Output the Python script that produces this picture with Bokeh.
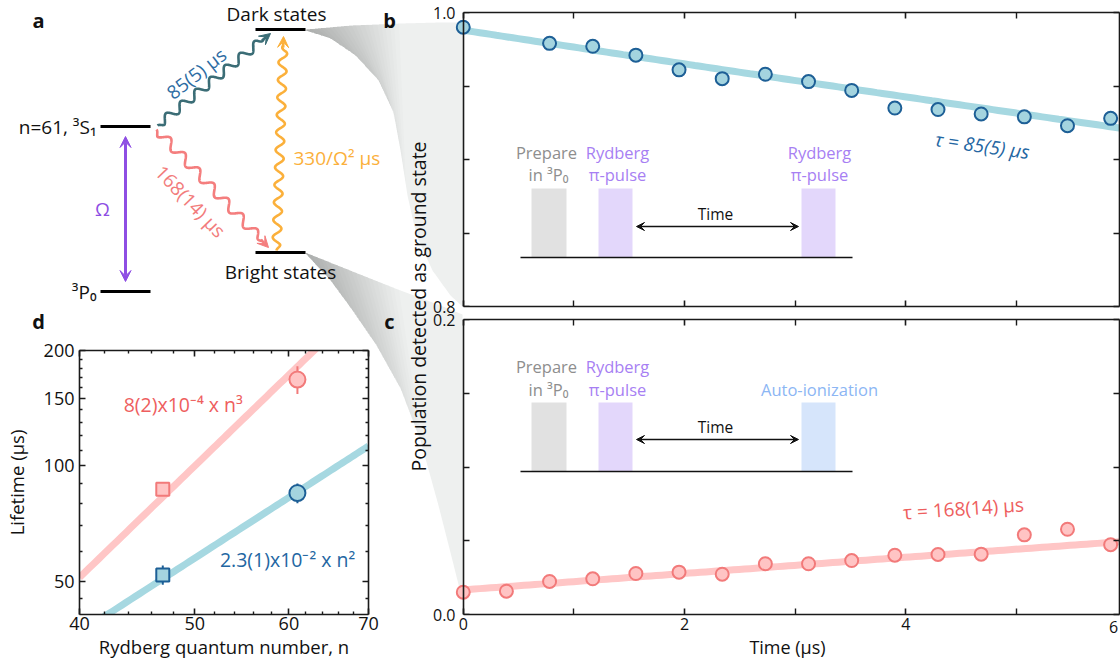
import numpy as np
from bokeh.plotting import figure
from bokeh.layouts import row, column
from bokeh.models import (Range1d, FixedTicker, LinearAxis, LogAxis, Arrow, VeeHead,
                          BasicTickFormatter, PrintfTickFormatter, Spacer)
from bokeh.core.properties import value
from bokeh.embed import file_html
from bokeh.resources import INLINE

FONT = "Open Sans"

# ---------------- data ----------------
# panel b: population remaining in the dark states
t_dark = [0.0, 0.78, 1.17, 1.56, 1.95, 2.34, 2.73, 3.12, 3.51, 3.90, 4.29, 4.68, 5.07, 5.46, 5.85]
pop_dark = [0.990, 0.979, 0.977, 0.971, 0.961, 0.955, 0.958, 0.953, 0.947,
            0.935, 0.934, 0.931, 0.929, 0.923, 0.928]
tau_dark_us = 85.0
dark_start = 0.988

# panel c: population returning through the bright states
t_bright = [0.0, 0.39, 0.78, 1.17, 1.56, 1.95, 2.34, 2.73, 3.12, 3.51, 3.90, 4.29, 4.68, 5.07, 5.46, 5.85]
pop_bright = [0.0151, 0.0158, 0.0224, 0.0242, 0.0278, 0.0287, 0.0273, 0.0344,
              0.0344, 0.0366, 0.0402, 0.0407, 0.0409, 0.0540, 0.0578, 0.0473]
tau_bright_us = 168.0
bright_floor = 0.0167
bright_scale = 0.94

# panel d: lifetimes against principal quantum number
n_levels = [47, 61]
life_dark = [52, 85]
life_dark_err = [3, 5]
life_bright = [87, 168]
life_bright_err = [3, 14]
coef_dark = 2.3e-2    # x n^2
coef_bright = 8e-4    # x n^3

time_major = [0, 2, 4]
time_minor = [1, 3, 5]
b_major = [0.8, 1.0]
b_minor = [0.85, 0.90, 0.95]
c_major = [0.0, 0.2]
c_minor = [0.05, 0.10, 0.15]
n_major = [40, 50, 60, 70]
n_minor = [42, 44, 46, 48, 52, 54, 56, 58, 62, 64, 66, 68]
life_major = [50, 100, 150, 200]
life_minor = [45, 60, 70, 80, 90, 110, 120, 130, 140, 160, 170, 180, 190]

BLUE_LINE = "#a6d8e1"
BLUE_FILL = "#a4d4df"
BLUE_EDGE = "#1d5f96"
BLUE_TEXT = "#2366a2"
PINK_LINE = "#ffc6c6"
PINK_FILL = "#ffc4c4"
PINK_EDGE = "#f27a7a"
PINK_TEXT = "#ee5e5e"
AX = "#1a1a1a"


def style_axis(ax, size=15):
    ax.axis_line_color = AX
    ax.axis_line_width = 1.6
    ax.major_tick_line_color = AX
    ax.major_tick_line_width = 1.6
    ax.minor_tick_line_color = AX
    ax.minor_tick_line_width = 1.4
    ax.major_tick_in = 6
    ax.major_tick_out = 0
    ax.minor_tick_in = 3
    ax.minor_tick_out = 0
    ax.major_label_text_font = FONT
    ax.major_label_text_font_size = f"{size}px"
    ax.major_label_text_color = "#111111"
    ax.axis_label_text_font = FONT
    ax.axis_label_text_font_style = "normal"
    ax.axis_label_text_color = "#111111"


def hide_labels(ax, ticks):
    ax.major_label_overrides = {t: "" for t in ticks}
    ax.major_label_text_font_size = "0px"
    ax.major_label_text_color = None
    ax.major_label_standoff = 0


def base_fig(**kw):
    f = figure(output_backend="svg", toolbar_location=None,
               background_fill_alpha=0, border_fill_alpha=0,
               outline_line_color=None, **kw)
    f.grid.visible = False
    return f


# ---------------- background canvas: level scheme, funnels, insets ----------------
canvas = figure(width=1120, height=664, x_range=Range1d(0, 1120), y_range=Range1d(664, 0),
                min_border=0, x_axis_location=None, y_axis_location=None,
                outline_line_color=None, toolbar_location=None, output_backend="svg")
canvas.grid.visible = False


def resample(pts, n=160):
    pts = np.asarray(pts, float)
    seg = np.hypot(*np.diff(pts, axis=0).T)
    s = np.concatenate([[0.0], np.cumsum(seg)]) / seg.sum()
    u = np.linspace(0, 1, n)
    return np.interp(u, s, pts[:, 0]), np.interp(u, s, pts[:, 1])


def funnel(upper, lower, layers=22, reach=0.6):
    ux, uy = resample(upper)
    lx, ly = resample(lower)
    canvas.patch(np.concatenate([ux, lx[::-1]]), np.concatenate([uy, ly[::-1]]),
                 fill_color="#eef0ef", line_color=None)
    n = len(ux)
    for k in range(layers):
        m = max(3, int(n * reach * (1 - k / layers)))
        canvas.patch(np.concatenate([ux[:m], lx[:m][::-1]]),
                     np.concatenate([uy[:m], ly[:m][::-1]]),
                     fill_color="#000000", fill_alpha=0.011, line_color=None)


funnel([(305, 29), (350, 25), (400, 23), (440, 22), (462, 22)],
       [(305, 30), (330, 38), (355, 55), (378, 80), (393, 112), (400, 150),
        (407, 195), (416, 235), (432, 270), (450, 295), (462, 306)])
funnel([(305, 252), (350, 270), (400, 290), (440, 305), (462, 314)],
       [(305, 253), (330, 280), (352, 310), (376, 345), (400, 388), (420, 440),
        (438, 505), (452, 560), (462, 600)])


def ctext(x, y, s, size=19, color="#111111", align="center", angle=0.0, style="normal"):
    canvas.text(x=[x], y=[y], text=[s], text_font=value(FONT),
                text_font_size=value(f"{size}px"), text_color=color,
                text_align=align, text_baseline="middle", angle=angle,
                text_font_style=style)


# panel letters
for lx, ly, s in [(38, 20, "a"), (389, 20, "b"), (389, 321, "c"), (38, 321, "d")]:
    ctext(lx, ly, s, size=20, style="bold")

# energy levels
for x0, x1, y in [(100, 150, 126), (100, 150, 291), (255, 305, 29), (255, 305, 252)]:
    canvas.line([x0, x1], [y, y], line_color="#000000", line_width=3)
ctext(96, 126, "n=61, \u00b3S\u2081", align="right")
ctext(96, 291, "\u00b3P\u2080", align="right")
ctext(276, 13, "Dark states")
ctext(280, 271, "Bright states")

# Rabi drive
PURPLE = "#8e4ee3"
canvas.add_layout(Arrow(start=VeeHead(size=11, fill_color=PURPLE, line_color=PURPLE),
                        end=VeeHead(size=11, fill_color=PURPLE, line_color=PURPLE),
                        x_start=125, y_start=136, x_end=125, y_end=281,
                        line_color=PURPLE, line_width=3))
ctext(102, 208, "\u03a9", size=19, color=PURPLE)


def wavy_arrow(x0, y0, x1, y1, wavelength, amp, color, head=11):
    dx, dy = x1 - x0, y1 - y0
    L = np.hypot(dx, dy)
    ux, uy = dx / L, dy / L
    ex, ey = x1 - ux * 9, y1 - uy * 9
    Lw = L - 9
    s = np.linspace(0, 1, 500)
    env = np.clip(np.minimum(s * Lw / 6, (1 - s) * Lw / 6), 0, 1)
    off = amp * env * np.sin(2 * np.pi * s * Lw / wavelength)
    xs = x0 + (ex - x0) * s - uy * off
    ys = y0 + (ey - y0) * s + ux * off
    canvas.line(xs, ys, line_color=color, line_width=2.6)
    canvas.add_layout(Arrow(end=VeeHead(size=head, fill_color=color, line_color=color),
                            x_start=ex - ux * 2, y_start=ey - uy * 2, x_end=x1, y_end=y1,
                            line_color=color, line_width=2.6))


TEAL = "#3b6d76"
ORANGE = "#fbb03b"
wavy_arrow(157, 125, 270, 33, 19, 4.2, TEAL)
wavy_arrow(156, 129, 268, 247, 21, 4.5, "#f47e7e")
wavy_arrow(276, 250, 283, 36, 17.5, 4.2, ORANGE)
ctext(196, 73, "85(5) \u00b5s", color="#2d6ca3", angle=np.deg2rad(38))
ctext(190, 201, "168(14) \u00b5s", color="#f27c7c", angle=np.deg2rad(-46))
ctext(293, 157, "330/\u03a9\u00b2 \u00b5s", color=ORANGE, align="left")

# shared y label of panels b and c
ctext(418, 306, "Population detected as ground state", size=19.5, angle=np.pi / 2)
# last time label at the right edge
ctext(1113, 626, "6", size=16)

# pulse-sequence insets
GRAY_TXT = "#8e8e8e"
PURP_TXT = "#a77ff3"
BLUE_TXT = "#8cb6f4"


def sequence(base, top, arrow_y, label1_y, label2_y, last_label, last_fill, last_color):
    canvas.quad(left=[531], right=[566], top=[top], bottom=[base], fill_color="#e1e1e1", line_color=None)
    canvas.quad(left=[598], right=[632], top=[top], bottom=[base], fill_color="#e3d7fb", line_color=None)
    canvas.quad(left=[801], right=[835], top=[top], bottom=[base], fill_color=last_fill, line_color=None)
    canvas.line([520, 852], [base, base], line_color="#111111", line_width=1.6)
    canvas.add_layout(Arrow(start=VeeHead(size=8, fill_color="#111111", line_color="#111111"),
                            end=VeeHead(size=8, fill_color="#111111", line_color="#111111"),
                            x_start=636, y_start=arrow_y, x_end=798, y_end=arrow_y,
                            line_color="#111111", line_width=1.3))
    ctext(715, arrow_y - 13, "Time", size=15.5)
    ctext(546, label1_y, "Prepare", size=16.5, color=GRAY_TXT)
    ctext(548, label2_y, "in \u00b3P\u2080", size=16.5, color=GRAY_TXT)
    ctext(617, label1_y, "Rydberg", size=16.5, color=PURP_TXT)
    ctext(617, label2_y, "\u03c0-pulse", size=16.5, color=PURP_TXT)
    for i, s in enumerate(last_label):
        ctext(819, (label1_y, label2_y)[2 - len(last_label) + i], s, size=16.5,
              color=last_color)


sequence(257, 188, 226, 152, 174, ["Rydberg", "\u03c0-pulse"], "#e3d7fb", PURP_TXT)
sequence(471, 402, 439, 366, 389, ["Auto-ionization"], "#d6e5fb", BLUE_TXT)

# ---------------- panels b and c ----------------
T_START = -0.07
T_END = 5.93
x_shared = Range1d(T_START, T_END)
FRAME_W = 664


def time_panel(y_rng, y_major, y_minor, top_border, frame_h, bottom_border, labelled_x, **kw):
    f = base_fig(frame_width=FRAME_W, frame_height=frame_h, x_range=x_shared, y_range=y_rng,
                 min_border_left=74, min_border_right=2, min_border_top=top_border,
                 min_border_bottom=bottom_border, x_axis_location=None, y_axis_location=None, **kw)
    # tick labels sit at the frame edge, just left of t = 0
    lab = LinearAxis(ticker=FixedTicker(ticks=y_major), formatter=PrintfTickFormatter(format="%.1f"))
    style_axis(lab, size=16)
    lab.axis_line_color = None
    lab.major_tick_line_color = None
    lab.minor_tick_line_color = None
    lab.major_label_standoff = 0
    lab.major_label_text_baseline = "alphabetic"
    f.add_layout(lab, "left")
    # axis line and ticks drawn at t = 0
    line_ax = LinearAxis(ticker=FixedTicker(ticks=y_major, minor_ticks=y_minor), fixed_location=0)
    style_axis(line_ax)
    line_ax.minor_tick_in = 6
    hide_labels(line_ax, y_major)
    f.add_layout(line_ax, "left")
    right = LinearAxis(ticker=FixedTicker(ticks=y_major, minor_ticks=y_minor))
    style_axis(right)
    right.minor_tick_in = 6
    hide_labels(right, y_major)
    f.add_layout(right, "right")
    for side in ("above", "below"):
        ax = LinearAxis(ticker=FixedTicker(ticks=time_major, minor_ticks=time_minor),
                        bounds=(0, T_END))
        style_axis(ax, size=16)
        ax.minor_tick_in = 6
        if side == "below" and labelled_x:
            ax.axis_label = "Time (\u00b5s)"
            ax.axis_label_text_font_size = "18px"
            ax.major_label_standoff = 3
            ax.axis_label_standoff = 2
        else:
            hide_labels(ax, time_major)
        f.add_layout(ax, side)
    return f


# panel b spans y 0..322 and panel c starts at y 302; the two overlap by 20 px
pb = time_panel(Range1d(0.8, 1.0), b_major, b_minor, 12, 294, 16, False)
t_fit = np.linspace(0, T_END, 120)
pb.line(t_fit, dark_start * np.exp(-t_fit / tau_dark_us), line_color=BLUE_LINE, line_width=7)
pb.scatter(t_dark, pop_dark, marker="circle", size=13, fill_color=BLUE_FILL,
           line_color=BLUE_EDGE, line_width=2)
pb.text(x=[4.69], y=[0.9094], text=["\u03c4 = 85(5) \u00b5s"], text_font=value(FONT),
        text_font_size=value("19px"), text_font_style="italic", text_color=BLUE_TEXT,
        text_align="center", text_baseline="middle", angle=-0.14)

pc = time_panel(Range1d(0.0, 0.2), c_major, c_minor, 17, 295, 50, True, margin=(-20, 0, 0, 0))
pc.line(t_fit, bright_floor + bright_scale * (1 - np.exp(-t_fit / tau_bright_us)),
        line_color=PINK_LINE, line_width=7)
pc.scatter(t_bright, pop_bright, marker="circle", size=13, fill_color=PINK_FILL,
           line_color=PINK_EDGE, line_width=2)
pc.text(x=[4.52], y=[0.0719], text=["\u03c4 = 168(14) \u00b5s"], text_font=value(FONT),
        text_font_size=value("19px"), text_color=PINK_TEXT,
        text_align="center", text_baseline="middle", angle=0.066)

# ---------------- panel d ----------------
pd_ = base_fig(x_axis_type="log", y_axis_type="log", x_range=Range1d(40, 70),
               y_range=Range1d(41, 200), frame_width=289, frame_height=264,
               min_border_left=78, min_border_right=13, min_border_top=38,
               min_border_bottom=50)
for ax in pd_.xaxis:
    ax.ticker = FixedTicker(ticks=n_major, minor_ticks=n_minor)
    ax.formatter = BasicTickFormatter()
    style_axis(ax, size=18)
    ax.axis_label = "Rydberg quantum number, n"
    ax.axis_label_text_font_size = "18.5px"
    ax.major_label_standoff = 2
    ax.axis_label_standoff = 1
for ax in pd_.yaxis:
    ax.ticker = FixedTicker(ticks=life_major, minor_ticks=life_minor)
    ax.formatter = BasicTickFormatter()
    style_axis(ax, size=18)
    ax.axis_label = "Lifetime (\u00b5s)"
    ax.axis_label_text_font_size = "18.5px"
    ax.major_label_standoff = 5
    ax.axis_label_standoff = 12
top_d = LogAxis(ticker=FixedTicker(ticks=n_major, minor_ticks=n_minor))
style_axis(top_d)
hide_labels(top_d, n_major)
pd_.add_layout(top_d, "above")
right_d = LogAxis(ticker=FixedTicker(ticks=life_major, minor_ticks=life_minor))
style_axis(right_d)
hide_labels(right_d, life_major)
pd_.add_layout(right_d, "right")

n_fit = np.linspace(40, 70, 80)
pd_.line(n_fit, coef_bright * n_fit ** 3, line_color=PINK_LINE, line_width=7)
pd_.line(n_fit, coef_dark * n_fit ** 2, line_color=BLUE_LINE, line_width=7)

lo_b = [v - e for v, e in zip(life_bright, life_bright_err)]
hi_b = [v + e for v, e in zip(life_bright, life_bright_err)]
lo_d = [v - e for v, e in zip(life_dark, life_dark_err)]
hi_d = [v + e for v, e in zip(life_dark, life_dark_err)]
pd_.segment(n_levels, lo_b, n_levels, hi_b, line_color=PINK_EDGE, line_width=2)
pd_.segment(n_levels, lo_d, n_levels, hi_d, line_color=BLUE_EDGE, line_width=2)

pd_.scatter(n_levels[:1], life_bright[:1], marker="square", size=13,
            fill_color=PINK_FILL, line_color=PINK_EDGE, line_width=2)
pd_.scatter(n_levels[1:], life_bright[1:], marker="circle", size=16,
            fill_color=PINK_FILL, line_color=PINK_EDGE, line_width=2)
pd_.scatter(n_levels[:1], life_dark[:1], marker="square", size=13,
            fill_color=BLUE_FILL, line_color=BLUE_EDGE, line_width=2)
pd_.scatter(n_levels[1:], life_dark[1:], marker="circle", size=16,
            fill_color=BLUE_FILL, line_color=BLUE_EDGE, line_width=2)

pd_.text(x=[48.9], y=[145], text=["8(2)x10\u207b\u2074 x n\u00b3"], text_font=value(FONT),
         text_font_size=value("19.5px"), text_color=PINK_TEXT, text_align="center",
         text_baseline="middle")
pd_.text(x=[59.85], y=[57.2], text=["2.3(1)x10\u207b\u00b2 x n\u00b2"], text_font=value(FONT),
         text_font_size=value("19.5px"), text_color=BLUE_TEXT, text_align="center",
         text_baseline="middle")

# ---------------- assemble: data panels drawn over the canvas ----------------
left_col = column(Spacer(width=380, height=312), pd_)
right_col = column(pb, pc)
overlay = row(left_col, right_col, margin=(-664, 0, 0, 0))
page = column(canvas, overlay)

open("out.html", "w").write(file_html(page, INLINE))
